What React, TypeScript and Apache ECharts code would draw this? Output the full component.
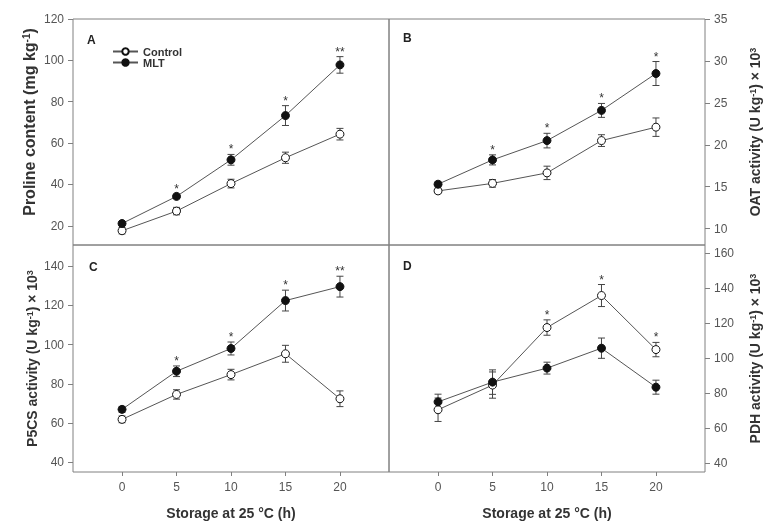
import React, { useEffect, useRef } from "react";
import * as echarts from "echarts";

const hours = [0, 5, 10, 15, 20];

const prolineControl = [17.6, 27.1, 40.4, 52.9, 64.3];
const prolineControlErr = [1.5, 1.8, 2.1, 2.7, 2.8];
const prolineMLT = [21.1, 34.2, 51.9, 73.3, 97.8];
const prolineMLTErr = [1.0, 1.0, 2.6, 4.8, 4.0];
const prolineSig = ["", "*", "*", "*", "**"];

const oatControl = [14.5, 15.4, 16.65, 20.5, 22.1];
const oatControlErr = [0.3, 0.45, 0.8, 0.7, 1.1];
const oatMLT = [15.3, 18.2, 20.5, 24.1, 28.5];
const oatMLTErr = [0.3, 0.6, 0.87, 0.83, 1.43];
const oatSig = ["", "*", "*", "*", "*"];

const p5csControl = [61.9, 74.6, 84.7, 95.3, 72.4];
const p5csControlErr = [1.7, 2.4, 2.7, 4.3, 4.0];
const p5csMLT = [67, 86.4, 98, 122.4, 129.5];
const p5csMLTErr = [1.5, 2.7, 3.3, 5.3, 5.3];
const p5csSig = ["", "*", "*", "*", "**"];

const pdhControl = [70.5, 84.6, 117.5, 135.8, 104.9];
const pdhControlErr = [6.7, 7.5, 4.4, 6.3, 4.1];
const pdhMLT = [75, 86.3, 94.3, 105.7, 83.4];
const pdhMLTErr = [4.4, 7.0, 3.4, 5.8, 4.0];
const pdhSig = ["", "", "*", "*", "*"];

const prolineTicks = [20, 40, 60, 80, 100, 120];
const oatTicks = [10, 15, 20, 25, 30, 35];
const p5csTicks = [40, 60, 80, 100, 120, 140];
const pdhTicks = [40, 60, 80, 100, 120, 140, 160];
const xTicks = [0, 5, 10, 15, 20];

const seriesNames = ["Control", "MLT"];
const xTitle = "Storage at 25 °C (h)";

const FONT = '"Liberation Sans", Arial, Helvetica, sans-serif';
const AXIS_COLOR = "#808080";
const LINE_COLOR = "#555555";
const LABEL_COLOR = "#555555";
const TITLE_COLOR = "#333333";

const richTitle = (size: number) => ({
  t: { fontSize: size, fontWeight: "bold", color: TITLE_COLOR, fontFamily: FONT },
  s: { fontSize: Math.round(size * 0.64), fontWeight: "bold", color: TITLE_COLOR, fontFamily: FONT, verticalAlign: "top" },
});

const panels = [
  {
    grid: { left: 73, top: 19, width: 316, height: 226 },
    ctrl: prolineControl, ctrlErr: prolineControlErr, mlt: prolineMLT, mltErr: prolineMLTErr, sig: prolineSig,
    yMin: 10.7, yMax: 120, ticks: prolineTicks, pos: "left",
    yName: "{t|Proline content (mg kg}{s|-1}{t|)}", nameGap: 36, showX: false, nameSize: 16, namePad: [0, 0, 0, 20],
  },
  {
    grid: { left: 389, top: 19, width: 316, height: 226 },
    ctrl: oatControl, ctrlErr: oatControlErr, mlt: oatMLT, mltErr: oatMLTErr, sig: oatSig,
    yMin: 8.05, yMax: 35, ticks: oatTicks, pos: "right",
    yName: "{t|OAT activity (U kg}{s|-1}{t|) × 10}{s|3}", nameGap: 43, showX: false, nameSize: 14, namePad: [0, 0, 0, 0],
  },
  {
    grid: { left: 73, top: 245, width: 316, height: 227 },
    ctrl: p5csControl, ctrlErr: p5csControlErr, mlt: p5csMLT, mltErr: p5csMLTErr, sig: p5csSig,
    yMin: 35.1, yMax: 150.7, ticks: p5csTicks, pos: "left",
    yName: "{t|P5CS activity (U kg}{s|-1}{t|) × 10}{s|3}", nameGap: 34, showX: true, nameSize: 14, namePad: [0, 0, 0, 0],
  },
  {
    grid: { left: 389, top: 245, width: 316, height: 227 },
    ctrl: pdhControl, ctrlErr: pdhControlErr, mlt: pdhMLT, mltErr: pdhMLTErr, sig: pdhSig,
    yMin: 34.9, yMax: 164.7, ticks: pdhTicks, pos: "right",
    yName: "{t|PDH activity (U kg}{s|-1}{t|) × 10}{s|3}", nameGap: 43, showX: true, nameSize: 14, namePad: [0, 0, 0, 0],
  },
];

const letters = [
  { t: "A", x: 87, y: 40 },
  { t: "B", x: 403, y: 38 },
  { t: "C", x: 89, y: 267 },
  { t: "D", x: 403, y: 266 },
];

function errRender(params: any, api: any) {
  const x = api.value(0);
  const lo = api.coord([x, api.value(1)]);
  const hi = api.coord([x, api.value(2)]);
  const w = 3.5;
  const style = { stroke: "#444", lineWidth: 1 };
  return {
    type: "group",
    children: [
      { type: "line", shape: { x1: lo[0], y1: lo[1], x2: hi[0], y2: hi[1] }, style },
      { type: "line", shape: { x1: lo[0] - w, y1: lo[1], x2: lo[0] + w, y2: lo[1] }, style },
      { type: "line", shape: { x1: hi[0] - w, y1: hi[1], x2: hi[0] + w, y2: hi[1] }, style },
    ],
  };
}

export default function App() {
  const ref = useRef<HTMLDivElement>(null);
  useEffect(() => {
    if (!ref.current) return;
    const chart = echarts.init(ref.current, null, { renderer: "svg" });
    const grid: any[] = [];
    const xAxis: any[] = [];
    const yAxis: any[] = [];
    const series: any[] = [];

    panels.forEach((p, i) => {
      grid.push({ ...p.grid, show: true, borderColor: AXIS_COLOR, borderWidth: 1, backgroundColor: "transparent" });
      xAxis.push({
        type: "value",
        gridIndex: i,
        position: "bottom",
        min: -4.5,
        max: 24.5,
        axisLine: { show: false, onZero: false },
        splitLine: { show: false },
        axisTick: { show: p.showX, customValues: xTicks, length: 4, inside: false, lineStyle: { color: AXIS_COLOR } },
        axisLabel: { show: p.showX, customValues: xTicks, margin: 9, fontSize: 12, color: LABEL_COLOR, fontFamily: FONT },
        name: p.showX ? xTitle : "",
        nameLocation: "middle",
        nameGap: 34,
        nameTextStyle: { fontSize: 14, fontWeight: "bold", color: TITLE_COLOR, fontFamily: FONT },
      });
      yAxis.push({
        type: "value",
        gridIndex: i,
        position: p.pos,
        min: p.yMin,
        max: p.yMax,
        axisLine: { show: false, onZero: false },
        splitLine: { show: false },
        axisTick: { show: true, customValues: p.ticks, length: 5, inside: false, lineStyle: { color: AXIS_COLOR } },
        axisLabel: { customValues: p.ticks, margin: 9, fontSize: 12, color: LABEL_COLOR, fontFamily: FONT },
        name: p.yName,
        nameLocation: "middle",
        nameRotate: 90,
        nameGap: p.nameGap,
        nameTextStyle: { fontFamily: FONT, padding: p.namePad, rich: richTitle(p.nameSize) },
      });

      const groups = [
        { name: seriesNames[0], v: p.ctrl, e: p.ctrlErr, fill: "#ffffff" },
        { name: seriesNames[1], v: p.mlt, e: p.mltErr, fill: "#111111" },
      ];
      groups.forEach((g) => {
        series.push({
          type: "custom",
          xAxisIndex: i,
          yAxisIndex: i,
          z: 1,
          silent: true,
          renderItem: errRender,
          encode: { x: 0, y: [1, 2] },
          data: hours.map((h, k) => [h, g.v[k] - g.e[k], g.v[k] + g.e[k]]),
        });
      });
      groups.forEach((g) => {
        series.push({
          type: "line",
          name: g.name,
          xAxisIndex: i,
          yAxisIndex: i,
          z: 3,
          symbol: "circle",
          symbolSize: 8,
          showAllSymbol: true,
          lineStyle: { color: LINE_COLOR, width: 1 },
          itemStyle: { color: g.fill, borderColor: "#111111", borderWidth: 1 },
          emphasis: { disabled: true },
          data: hours.map((h, k) => [h, g.v[k]]),
        });
      });
      const sig = p.sig;
      series.push({
        type: "custom",
        xAxisIndex: i,
        yAxisIndex: i,
        z: 4,
        silent: true,
        encode: { x: 0, y: 1 },
        renderItem: (params: any, api: any) => {
          const s = sig[params.dataIndex];
          if (!s) return null;
          const pt = api.coord([api.value(0), api.value(1)]);
          return {
            type: "text",
            style: {
              x: pt[0],
              y: pt[1] - 5,
              text: s,
              fontSize: 12,
              fontFamily: FONT,
              fill: "#333",
              align: "center",
              verticalAlign: "middle",
            },
          };
        },
        data: hours.map((h, k) => [h, Math.max(p.ctrl[k] + p.ctrlErr[k], p.mlt[k] + p.mltErr[k])]),
      });
    });

    chart.setOption({
      animation: false,
      textStyle: { fontFamily: FONT },
      grid,
      xAxis,
      yAxis,
      series,
      legend: {
        data: seriesNames,
        orient: "vertical",
        left: 112,
        top: 46,
        itemWidth: 25,
        itemHeight: 8,
        itemGap: 0,
        padding: 0,
        selectedMode: false,
        textStyle: { fontSize: 11, lineHeight: 11, fontWeight: "bold", color: TITLE_COLOR, fontFamily: FONT },
      },
      graphic: letters.map((l) => ({
        type: "text",
        x: l.x,
        y: l.y,
        style: {
          text: l.t,
          fontSize: 12,
          fontWeight: "bold",
          fontFamily: FONT,
          fill: "#222",
          verticalAlign: "middle",
        },
      })),
    });
    return () => chart.dispose();
  }, []);
  return <div ref={ref} style={{ position: "fixed", left: 0, top: 0, width: 779, height: 528 }} />;
}
